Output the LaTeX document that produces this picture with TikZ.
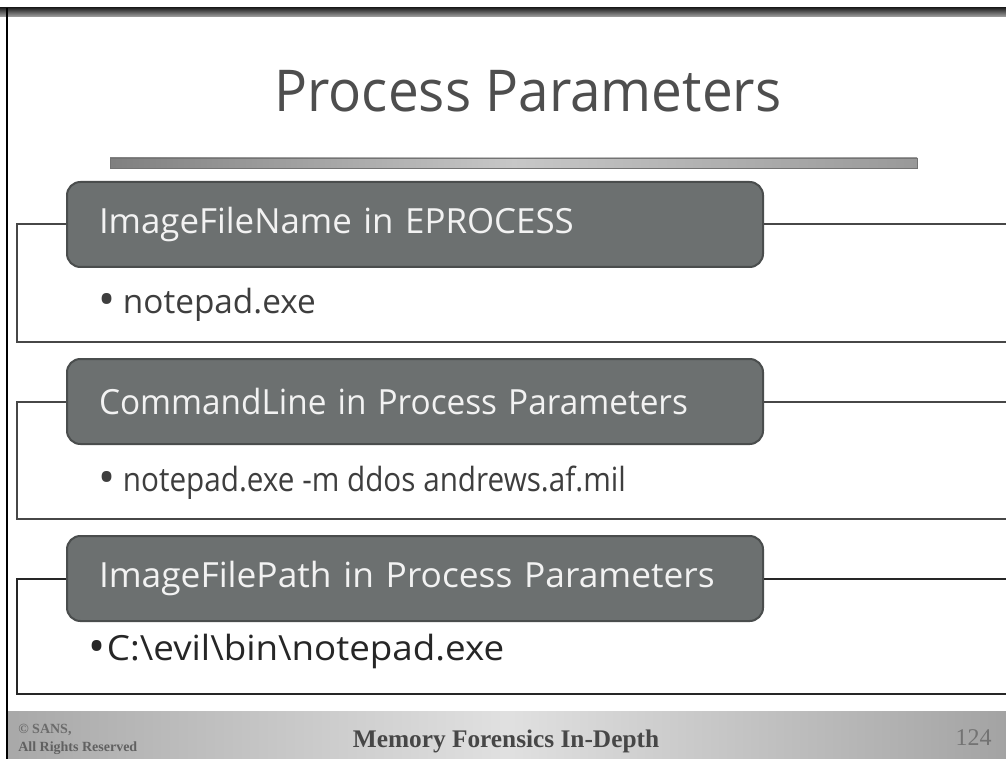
\documentclass[tikz,border=0pt]{standalone}
\usepackage{fontspec}
\setmainfont{Open Sans}
\newfontfamily\footfont{Liberation Serif}
\definecolor{headfill}{HTML}{6C7070}
\definecolor{headedge}{HTML}{4A4D4D}
\definecolor{connline}{HTML}{474747}
\definecolor{titlegray}{HTML}{4E4E4E}
\definecolor{itemgray}{HTML}{3E3E3E}
\definecolor{headtext}{HTML}{F2F2F2}
\newcommand{\bigbullet}{{\fontsize{34}{34}\selectfont\raisebox{-1.5pt}{•}}}
\tikzset{
  headbox/.style={draw=headedge, fill=headfill, line width=1.5pt, rounded corners=10pt,
    minimum width=522pt, minimum height=63.75pt, inner xsep=24pt, text width=474pt,
    align=left, anchor=north west, text=headtext, font=\fontsize{25}{30}\selectfont},
  itemtext/.style={anchor=base west, inner sep=0pt, text=itemgray},
  conn/.style={draw=connline, line width=1.5pt},
}
\begin{document}
\begin{tikzpicture}[x=0.75pt, y=-0.75pt]
\useasboundingbox (0,0) rectangle (1006,759);
\fill[white] (0,0) rectangle (1006,759);

% top rule and left frame
\shade[top color=black!85, bottom color=black!35] (0,8) rectangle (1006,17);
\draw[black, line width=1.5pt] (7,8) -- (7,759);

% title with its rule
\node[anchor=base, inner sep=0pt, text=titlegray, font=\fontsize{42}{50}\selectfont] (title) at (528,112) {\scalebox{0.98}[1.03]{Process Parameters}};
\shade[left color=black!50, right color=black!40, middle color=black!22] (110,158) rectangle (917,168);
\draw[black!55, line width=0.6pt] (110,158) rectangle (917,168);

% group 1
\node[headbox] (h1) at (66,181) {\raisebox{-2pt}{\scalebox{1.045}[1.04]{ImageFileName in EPROCESS}}};
\coordinate (b1) at (1006,342);
\draw[conn] (h1.west) -- ++(-49,0) |- (b1);
\draw[conn] (h1.east) -- (h1.east -| b1);
\node[itemtext, font=\fontsize{25}{30}\selectfont] (t1) at (98,313) {\makebox[18.5pt][l]{\bigbullet}notepad.exe};

% group 2
\node[headbox] (h2) at (66,358) {\raisebox{-1pt}{\scalebox{1.0}[1.04]{CommandLine in Process Parameters}}};
\coordinate (b2) at (1006,519);
\draw[conn] (h2.west) -- ++(-49,0) |- (b2);
\draw[conn] (h2.east) -- (h2.east -| b2);
\node[itemtext, font=\fontsize{25}{30}\selectfont] (t2) at (98,491) {\makebox[18.5pt][l]{\bigbullet}\scalebox{0.89}[1]{notepad.exe -m ddos andrews.af.mil}};

% group 3
\node[headbox] (h3) at (66,535) {\raisebox{-2pt}{\scalebox{1.06}[1.04]{ImageFilePath in Process Parameters}}};
\coordinate (b3) at (1006,694);
\draw[conn, draw=black!85] (h3.west) -- ++(-49,0) |- (b3);
\draw[conn, draw=black!85] (h3.east) -- (h3.east -| b3);
\node[itemtext, text=black!85, font=\fontsize{26}{30}\selectfont] (t3) at (88,660) {\makebox[14pt][l]{\bigbullet}\scalebox{1.06}[1]{C:\textbackslash evil\textbackslash bin\textbackslash notepad.exe}};

% footer band
\shade[left color=black!34, right color=black!36, middle color=black!12] (8,711) rectangle (1006,759);
\node[anchor=base west, inner sep=0pt, text=black!58, font=\footfont\bfseries\fontsize{10.5}{12}\selectfont] (copy) at (18,733) {\textcopyright\ SANS,};
\node[anchor=base west, inner sep=0pt, text=black!62, font=\footfont\bfseries\fontsize{10.5}{12}\selectfont] (rights) at (18,751) {All Rights Reserved};
\node[anchor=base, inner sep=0pt, text=black!72, font=\footfont\bfseries\fontsize{19}{22}\selectfont] (course) at (506,747) {Memory Forensics In-Depth};
\node[anchor=base east, inner sep=0pt, text=black!55, font=\footfont\fontsize{18}{20}\selectfont] (page) at (992,745) {124};
\end{tikzpicture}
\end{document}
